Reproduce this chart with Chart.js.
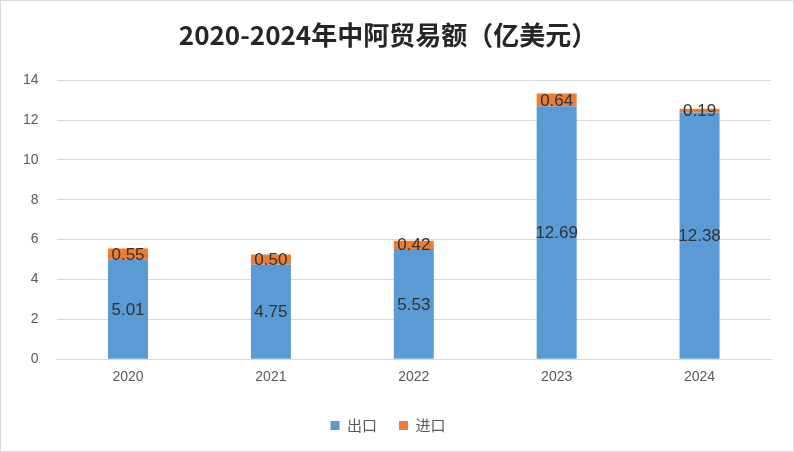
<!DOCTYPE html>
<html><head><meta charset="utf-8">
<script src="https://cdn.jsdelivr.net/npm/chart.js@4/dist/chart.umd.min.js"></script>
<style>
html,body{margin:0;padding:0;background:#fff;}
#wrap{position:absolute;left:0;top:0;width:792px;height:450px;border:1px solid #d9d9d9;}
</style></head>
<body><div id="wrap"><canvas id="c" width="792" height="450"></canvas></div>
<script>
const categories = ['2020','2021','2022','2023','2024'];
const exportValues = [5.01, 4.75, 5.53, 12.69, 12.38];
const importValues = [0.55, 0.50, 0.42, 0.64, 0.19];
const exportLabels = ['5.01','4.75','5.53','12.69','12.38'];
const importLabels = ['0.55','0.50','0.42','0.64','0.19'];
const title = '2020-2024年中阿贸易额（亿美元）';

const labelPlugin = {
  id: 'lbl',
  afterDatasetsDraw(chart) {
    const ctx = chart.ctx;
    ctx.save();
    ctx.font = '17px "Liberation Sans", sans-serif';
    ctx.fillStyle = '#333333';
    ctx.textAlign = 'center';
    ctx.textBaseline = 'middle';
    const texts = [exportLabels, importLabels];
    chart.data.datasets.forEach((ds, di) => {
      chart.getDatasetMeta(di).data.forEach((bar, i) => {
        const y = (bar.y + bar.base) / 2;
        ctx.fillText(texts[di][i], bar.x, y + 1);
      });
    });
    ctx.restore();
  }
};

new Chart(document.getElementById('c'), {
  type: 'bar',
  data: {
    labels: categories,
    datasets: [
      { label: '出口', data: exportValues, backgroundColor: '#5b9bd5' },
      { label: '进口', data: importValues, backgroundColor: '#ed7d31' }
    ]
  },
  options: {
    responsive: false,
    animation: false,
    devicePixelRatio: 1,
    layout: { padding: { left: 4, right: 22, top: 8, bottom: 8 } },
    datasets: { bar: { categoryPercentage: 1, barPercentage: 0.28 } },
    scales: {
      x: {
        stacked: true,
        grid: { display: false, drawTicks: false },
        border: { color: '#d9d9d9' },
        ticks: { color: '#595959', font: { size: 14, family: 'Liberation Sans' }, padding: 10 }
      },
      y: {
        stacked: true, min: 0, max: 14,
        ticks: { stepSize: 2, color: '#595959', font: { size: 14, family: 'Liberation Sans' }, padding: 18 },
        grid: { color: '#d9d9d9', drawTicks: false },
        border: { display: false }
      }
    },
    plugins: {
      title: { display: true, text: title, color: '#262626',
        font: { size: 26, weight: 'bold', family: '"Noto Sans CJK SC", sans-serif' },
        padding: { top: 11, bottom: 29 } },
      legend: { position: 'bottom',
        labels: { boxWidth: 9, boxHeight: 9, color: '#595959', padding: 22,
          font: { size: 15, family: '"Noto Sans CJK SC", sans-serif' } } },
      tooltip: { enabled: false }
    }
  },
  plugins: [labelPlugin]
});
</script></body></html>
